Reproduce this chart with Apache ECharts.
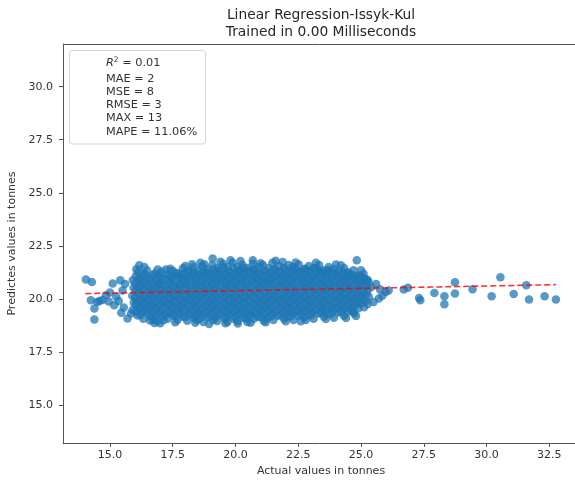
<!DOCTYPE html>
<html>
<head>
<meta charset="utf-8">
<script src="https://cdn.jsdelivr.net/npm/echarts@6/dist/echarts.min.js"></script>
<style>
html,body{margin:0;padding:0;background:#fff;}
#chart{width:575px;height:480px;}
</style>
</head>
<body>
<div id="chart"></div>
<script>
// ---- data ----
const titleLines = ['Linear Regression-Issyk-Kul', 'Trained in 0.00 Milliseconds'];
const xAxisName = 'Actual values in tonnes';
const yAxisName = 'Predictes values in tonnes';
const xTicks = [15.0, 17.5, 20.0, 22.5, 25.0, 27.5, 30.0, 32.5];
const yTicks = [15.0, 17.5, 20.0, 22.5, 25.0, 27.5, 30.0];
const xRange = [13.13, 33.68];
const yRange = [13.21, 32.01];
const metricR2 = '0.01';
const metricLines = ['MAE = 2', 'MSE = 8', 'RMSE = 3', 'MAX = 13', 'MAPE = 11.06%'];
// regression line endpoints [actual, predicted]
const regressionLine = [[14.02, 20.25], [32.76, 20.67]];
// sparse points left of main cloud
const leftPoints = [[14.04,20.91],[14.28,20.80],[14.24,19.94],[14.38,19.55],[14.38,19.03],[14.58,19.90],[14.84,20.17],[15.11,20.72],[15.41,20.88],[15.17,19.70],[15.70,19.08],[15.84,19.31],[16.17,21.58],[16.37,21.50],[17.23,21.38],[19.09,21.90],[18.27,21.63],[18.76,21.63],[16.77,18.87],[17.13,18.99],[20.09,18.84],[20.69,21.82],[21.88,21.74],
[14.50,19.85],[14.70,19.95],[14.95,19.88],[15.00,20.30],[15.25,20.10],[15.35,19.90],[15.50,20.40],[15.55,19.60],[15.60,20.70],[15.45,19.35]];
// sparse points right of main cloud
const rightPoints = [[24.83,21.82],[26.70,20.44],[26.87,20.53],[27.31,20.04],[27.36,19.94],[27.92,20.28],[28.32,20.12],[28.32,19.75],[28.74,20.78],[28.74,20.25],[29.44,20.45],[30.20,20.12],[30.55,21.02],[31.08,20.23],[31.58,20.64],[31.69,19.97],[32.31,20.12],[32.76,19.97],
[25.98,20.33],[25.71,20.02],[25.41,20.56],[25.14,20.96],[24.68,19.39],[26.10,20.40],[25.85,20.15],[25.60,20.70],[25.50,19.85],[25.75,20.45]];
// dense main cloud (outer layer)
const cloudPoints = [
[15.90,19.48],[15.95,19.82],[15.89,20.15],[15.94,20.52],[15.91,20.88],
[16.10,19.22],[16.15,19.56],[16.09,19.88],[16.14,20.24],[16.11,20.57],[16.16,20.93],[16.12,21.26],
[16.33,19.06],[16.29,19.41],[16.34,19.74],[16.30,20.09],[16.32,20.43],[16.28,20.78],[16.33,21.18],
[16.50,19.31],[16.54,19.64],[16.49,19.97],[16.55,20.31],[16.51,20.66],[16.53,21.00],[16.48,21.34],
[16.72,19.02],[16.68,19.37],[16.71,19.70],[16.74,20.04],[16.69,20.40],[16.73,20.74],[16.70,21.12],
[16.89,18.96],[16.93,19.31],[16.90,19.64],[16.94,19.98],[16.88,20.33],[16.92,20.69],[16.95,21.04],[16.90,21.38],
[17.11,19.21],[17.07,19.55],[17.10,19.89],[17.12,20.23],[17.08,20.58],[17.11,20.93],[17.06,21.28],
[17.30,19.06],[17.34,19.40],[17.31,19.73],[17.33,20.07],[17.29,20.42],[17.35,20.77],[17.32,21.13],
[17.52,19.22],[17.48,19.57],[17.51,19.91],[17.49,20.26],[17.53,20.60],[17.47,20.96],[17.50,21.33],
[17.69,19.01],[17.73,19.35],[17.70,19.68],[17.72,20.02],[17.68,20.37],[17.74,20.71],[17.71,21.05],[17.70,21.22],
[17.91,19.16],[17.87,19.50],[17.90,19.84],[17.92,20.19],[17.88,20.53],[17.90,20.88],[17.86,21.20],[17.91,21.44],
[18.08,18.97],[18.12,19.31],[18.09,19.65],[18.11,19.99],[18.13,20.34],[18.07,20.68],[18.10,21.02],[18.12,21.30],
[18.33,19.11],[18.29,19.46],[18.32,19.80],[18.30,20.14],[18.34,20.48],[18.28,20.83],[18.31,21.17],[18.33,21.49],
[18.47,19.01],[18.51,19.35],[18.48,19.69],[18.50,20.04],[18.52,20.38],[18.46,20.72],[18.49,21.06],[18.51,21.34],
[18.72,18.91],[18.68,19.26],[18.71,19.60],[18.69,19.95],[18.73,20.29],[18.67,20.63],[18.70,20.98],[18.72,21.30],[18.68,21.54],
[18.89,19.16],[18.93,19.50],[18.90,19.84],[18.92,20.18],[18.88,20.53],[18.94,20.87],[18.91,21.20],[18.89,21.40],
[19.12,19.01],[19.08,19.35],[19.11,19.69],[19.09,20.03],[19.13,20.38],[19.07,20.72],[19.10,21.06],[19.12,21.38],[19.08,21.60],
[19.27,18.96],[19.31,19.30],[19.28,19.64],[19.30,19.98],[19.32,20.33],[19.26,20.67],[19.29,21.01],[19.31,21.34],[19.27,21.46],
[19.54,19.11],[19.50,19.45],[19.53,19.79],[19.51,20.13],[19.55,20.47],[19.49,20.82],[19.52,21.16],[19.54,21.48],[19.50,21.65],
[19.68,18.91],[19.72,19.25],[19.69,19.60],[19.71,19.94],[19.73,20.28],[19.67,20.62],[19.70,20.97],[19.72,21.30],[19.68,21.50],
[19.93,19.06],[19.89,19.40],[19.92,19.74],[19.90,20.08],[19.94,20.43],[19.88,20.77],[19.91,21.11],[19.93,21.44],[19.89,21.70],
[20.08,18.96],[20.12,19.30],[20.09,19.64],[20.11,19.98],[20.13,20.33],[20.07,20.67],[20.10,21.01],[20.12,21.32],[20.08,21.50],
[20.32,19.11],[20.28,19.45],[20.31,19.79],[20.29,20.13],[20.33,20.47],[20.27,20.82],[20.30,21.16],[20.32,21.45],[20.28,21.60],
[20.47,18.91],[20.51,19.25],[20.48,19.60],[20.50,19.94],[20.52,20.28],[20.46,20.62],[20.49,20.97],[20.51,21.30],[20.47,21.45],
[20.73,19.06],[20.69,19.40],[20.72,19.74],[20.70,20.08],[20.74,20.43],[20.68,20.77],[20.71,21.11],[20.73,21.42],[20.69,21.65],
[20.88,19.16],[20.92,19.50],[20.89,19.84],[20.91,20.18],[20.93,20.53],[20.87,20.87],[20.90,21.20],[20.92,21.50],
[21.13,18.96],[21.09,19.30],[21.12,19.64],[21.10,19.98],[21.14,20.33],[21.08,20.67],[21.11,21.01],[21.13,21.33],[21.09,21.60],
[21.28,19.11],[21.32,19.45],[21.29,19.79],[21.31,20.13],[21.33,20.47],[21.27,20.82],[21.30,21.16],[21.32,21.45],
[21.51,19.01],[21.47,19.35],[21.50,19.69],[21.48,20.03],[21.52,20.38],[21.46,20.72],[21.49,21.06],[21.51,21.40],[21.47,21.70],
[21.68,19.21],[21.72,19.55],[21.69,19.89],[21.71,20.23],[21.73,20.58],[21.67,20.92],[21.70,21.25],[21.72,21.55],
[21.93,19.06],[21.89,19.40],[21.92,19.74],[21.90,20.08],[21.94,20.43],[21.88,20.77],[21.91,21.11],[21.93,21.45],
[22.08,19.16],[22.12,19.50],[22.09,19.84],[22.11,20.18],[22.13,20.53],[22.07,20.87],[22.10,21.21],[22.12,21.60],
[22.31,19.01],[22.27,19.35],[22.30,19.69],[22.28,20.03],[22.32,20.38],[22.26,20.72],[22.29,21.06],[22.31,21.40],[22.27,21.50],
[22.48,19.21],[22.52,19.55],[22.49,19.89],[22.51,20.23],[22.53,20.58],[22.47,20.92],[22.50,21.26],[22.52,21.62],
[22.73,19.11],[22.69,19.45],[22.72,19.79],[22.70,20.13],[22.74,20.47],[22.68,20.82],[22.71,21.14],[22.73,21.40],
[22.88,19.26],[22.92,19.60],[22.89,19.94],[22.91,20.28],[22.93,20.63],[22.87,20.97],[22.90,21.30],[22.92,21.55],
[23.11,19.06],[23.07,19.40],[23.10,19.74],[23.08,20.08],[23.12,20.43],[23.06,20.77],[23.09,21.11],[23.11,21.45],
[23.29,19.31],[23.33,19.65],[23.30,19.99],[23.32,20.33],[23.34,20.68],[23.28,21.02],[23.31,21.35],[23.33,21.60],
[23.52,19.16],[23.48,19.50],[23.51,19.84],[23.49,20.18],[23.53,20.53],[23.47,20.87],[23.50,21.20],[23.52,21.35],
[23.67,19.31],[23.71,19.65],[23.68,19.99],[23.70,20.33],[23.72,20.68],[23.66,21.02],[23.69,21.35],[23.71,21.50],
[23.92,19.11],[23.88,19.45],[23.91,19.79],[23.89,20.13],[23.93,20.48],[23.87,20.82],[23.90,21.15],[23.92,21.40],
[24.09,19.36],[24.13,19.70],[24.10,20.04],[24.12,20.38],[24.14,20.73],[24.08,21.05],[24.11,21.30],
[24.32,19.21],[24.28,19.55],[24.31,19.89],[24.29,20.23],[24.33,20.58],[24.27,20.92],[24.30,21.25],[24.32,21.45],
[24.47,19.41],[24.51,19.75],[24.48,20.09],[24.50,20.43],[24.52,20.78],[24.46,21.10],[24.49,21.26],
[24.72,19.31],[24.68,19.65],[24.71,19.99],[24.69,20.33],[24.73,20.68],[24.67,21.02],[24.70,21.35],
[24.89,19.56],[24.93,19.90],[24.90,20.24],[24.92,20.58],[24.88,20.90],[24.91,21.10],
[25.12,19.61],[25.08,19.95],[25.11,20.29],[25.09,20.63],[25.13,20.95],[25.10,21.18],
[25.27,19.76],[25.31,20.10],[25.28,20.44],[25.30,20.78],[25.26,20.90],
[16.05,21.40],[16.60,18.98],[17.00,18.85],[17.40,21.42],[17.60,18.90],[18.00,21.55],[18.40,18.88],[18.95,18.82],[19.40,21.75],[19.60,18.85],[20.20,21.78],[20.60,18.88],[21.00,21.68],[21.20,18.90],[21.60,21.80],[22.00,18.95],[22.40,21.72],[22.80,19.00],[23.20,21.70],[23.60,19.05],[24.00,21.62],[24.40,19.10],[24.20,21.58],[24.80,19.20],[25.00,21.35],[22.60,18.95],[19.80,21.82],[18.60,21.70]
];
// dense main cloud (inner layer)
const cloudInner = [
[16.02,19.40],[16.04,19.73],[16.00,20.07],[16.03,20.41],[16.01,20.75],[16.03,21.08],
[16.21,19.24],[16.23,19.58],[16.20,19.92],[16.22,20.26],[16.19,20.60],[16.22,20.95],
[16.41,19.46],[16.39,19.80],[16.42,20.14],[16.40,20.48],[16.43,20.83],[16.40,21.15],
[16.60,19.20],[16.62,19.53],[16.59,19.87],[16.61,20.21],[16.60,20.56],[16.62,20.90],
[16.80,19.14],[16.82,19.48],[16.79,19.82],[16.81,20.16],[16.80,20.51],[16.83,20.86],[16.79,21.20],
[17.00,19.38],[17.02,19.72],[16.99,20.06],[17.01,20.40],[17.00,20.75],[17.02,21.10],
[17.20,19.23],[17.22,19.57],[17.19,19.90],[17.21,20.24],[17.20,20.59],[17.22,20.94],
[17.41,19.37],[17.39,19.71],[17.42,20.05],[17.40,20.39],[17.43,20.74],[17.40,21.08],
[17.60,19.20],[17.62,19.53],[17.59,19.87],[17.61,20.21],[17.60,20.56],[17.62,20.90],[17.59,21.20],
[17.80,19.30],[17.82,19.64],[17.79,19.98],[17.81,20.32],[17.80,20.67],[17.82,21.02],
[18.00,19.15],[18.02,19.49],[17.99,19.83],[18.01,20.17],[18.00,20.52],[18.02,20.86],[17.99,21.18],
[18.20,19.28],[18.22,19.62],[18.19,19.96],[18.21,20.30],[18.20,20.65],[18.22,21.00],[18.19,21.30],
[18.40,19.18],[18.42,19.52],[18.39,19.86],[18.41,20.20],[18.40,20.55],[18.42,20.90],[18.39,21.20],
[18.60,19.10],[18.62,19.44],[18.59,19.78],[18.61,20.12],[18.60,20.47],[18.62,20.81],[18.59,21.15],
[18.80,19.33],[18.82,19.67],[18.79,20.01],[18.81,20.35],[18.80,20.70],[18.82,21.04],[18.79,21.30],
[19.00,19.18],[19.02,19.52],[18.99,19.86],[19.01,20.20],[19.00,20.55],[19.02,20.89],[18.99,21.22],
[19.20,19.12],[19.22,19.47],[19.19,19.81],[19.21,20.15],[19.20,20.50],[19.22,20.84],[19.19,21.18],
[19.40,19.28],[19.42,19.62],[19.39,19.96],[19.41,20.30],[19.40,20.65],[19.42,21.00],[19.39,21.32],
[19.61,19.08],[19.63,19.42],[19.60,19.77],[19.62,20.11],[19.61,20.45],[19.63,20.80],[19.60,21.14],
[19.80,19.23],[19.82,19.57],[19.79,19.91],[19.81,20.25],[19.80,20.60],[19.82,20.94],[19.79,21.28],
[20.00,19.13],[20.02,19.47],[19.99,19.81],[20.01,20.15],[20.00,20.50],[20.02,20.84],[19.99,21.20],
[20.20,19.28],[20.22,19.62],[20.19,19.96],[20.21,20.30],[20.20,20.65],[20.22,21.00],[20.19,21.32],
[20.40,19.08],[20.42,19.42],[20.39,19.77],[20.41,20.11],[20.40,20.45],[20.42,20.80],[20.39,21.14],
[20.60,19.23],[20.62,19.57],[20.59,19.91],[20.61,20.25],[20.60,20.60],[20.62,20.94],[20.59,21.28],
[20.80,19.33],[20.82,19.67],[20.79,20.01],[20.81,20.35],[20.80,20.70],[20.82,21.04],[20.79,21.35],
[21.00,19.13],[21.02,19.47],[20.99,19.81],[21.01,20.15],[21.00,20.50],[21.02,20.84],[20.99,21.18],
[21.20,19.28],[21.22,19.62],[21.19,19.96],[21.21,20.30],[21.20,20.65],[21.22,20.99],[21.19,21.30],
[21.40,19.18],[21.42,19.52],[21.39,19.86],[21.41,20.20],[21.40,20.55],[21.42,20.89],[21.39,21.22],
[21.60,19.38],[21.62,19.72],[21.59,20.06],[21.61,20.40],[21.60,20.75],[21.62,21.09],[21.59,21.38],
[21.80,19.23],[21.82,19.57],[21.79,19.91],[21.81,20.25],[21.80,20.60],[21.82,20.94],[21.79,21.28],
[22.00,19.33],[22.02,19.67],[21.99,20.01],[22.01,20.35],[22.00,20.70],[22.02,21.04],[21.99,21.36],
[22.20,19.18],[22.22,19.52],[22.19,19.86],[22.21,20.20],[22.20,20.55],[22.22,20.89],[22.19,21.23],
[22.40,19.38],[22.42,19.72],[22.39,20.06],[22.41,20.40],[22.40,20.75],[22.42,21.09],[22.39,21.40],
[22.60,19.28],[22.62,19.62],[22.59,19.96],[22.61,20.30],[22.60,20.65],[22.62,20.99],[22.59,21.28],
[22.80,19.43],[22.82,19.77],[22.79,20.11],[22.81,20.45],[22.80,20.80],[22.82,21.14],[22.79,21.42],
[23.00,19.23],[23.02,19.57],[22.99,19.91],[23.01,20.25],[23.00,20.60],[23.02,20.94],[22.99,21.28],
[23.20,19.48],[23.22,19.82],[23.19,20.16],[23.21,20.50],[23.20,20.85],[23.22,21.18],[23.19,21.45],
[23.40,19.33],[23.42,19.67],[23.39,20.01],[23.41,20.35],[23.40,20.70],[23.42,21.04],[23.39,21.30],
[23.60,19.48],[23.62,19.82],[23.59,20.16],[23.61,20.50],[23.60,20.85],[23.62,21.18],
[23.80,19.28],[23.82,19.62],[23.79,19.96],[23.81,20.30],[23.80,20.65],[23.82,20.99],[23.79,21.30],
[24.00,19.53],[24.02,19.87],[23.99,20.21],[24.01,20.55],[24.00,20.90],[24.02,21.20],
[24.20,19.38],[24.22,19.72],[24.19,20.06],[24.21,20.40],[24.20,20.75],[24.22,21.09],
[24.40,19.58],[24.42,19.92],[24.39,20.26],[24.41,20.60],[24.40,20.95],[24.42,21.20],
[24.60,19.48],[24.62,19.82],[24.59,20.16],[24.61,20.50],[24.60,20.85],[24.62,21.15],
[24.80,19.73],[24.82,20.07],[24.79,20.41],[24.81,20.75],[24.80,21.05],
[25.00,19.78],[25.02,20.12],[24.99,20.46],[25.01,20.80],[25.00,21.05],
[25.20,19.90],[25.22,20.24],[25.19,20.58],[25.21,20.85]
];

// ---- chart ----
const chart = echarts.init(document.getElementById('chart'), null, {renderer: 'canvas'});
const FONT = 'DejaVu Sans';
const TXT = '#333';
const SPINE = '#555';
const allPoints = leftPoints.concat(cloudPoints, cloudInner, rightPoints);
const GRID = {left: 63, top: 44, width: 516, height: 399};

const graphics = [];
titleLines.forEach((t, i) => {
  graphics.push({
    type: 'text', x: 321, y: 15 + i * 17.3, z: 100,
    style: {text: t, font: '13.8px "DejaVu Sans"', fill: '#262626', textAlign: 'center', textVerticalAlign: 'middle', verticalAlign: 'middle'}
  });
});
// top spine of the axes frame
graphics.push({
  type: 'line', z: 40,
  shape: {x1: GRID.left, y1: GRID.top + 0.5, x2: GRID.left + GRID.width, y2: GRID.top + 0.5},
  style: {stroke: SPINE, lineWidth: 1}
});
graphics.push({
  type: 'rect', z: 50,
  shape: {x: 69.5, y: 50.5, width: 136, height: 93.5, r: 3},
  style: {fill: 'rgba(255,255,255,0.8)', stroke: '#d4d4d4', lineWidth: 1}
});
graphics.push({
  type: 'text', x: 106, y: 63.5, z: 60,
  style: {
    text: '{i|R}{s|2}{n| = ' + metricR2 + '}',
    textVerticalAlign: 'middle', verticalAlign: 'middle',
    rich: {
      i: {fontFamily: FONT, fontStyle: 'italic', fontSize: 11.3, fill: TXT, lineHeight: 14},
      s: {fontFamily: FONT, fontSize: 7.5, fill: TXT, verticalAlign: 'top', lineHeight: 14},
      n: {fontFamily: FONT, fontSize: 11.3, fill: TXT, lineHeight: 14}
    }
  }
});
metricLines.forEach((t, i) => {
  graphics.push({
    type: 'text', x: 106, y: 78.8 + i * 13.2, z: 60,
    style: {text: t, font: '11.3px "DejaVu Sans"', fill: TXT, textVerticalAlign: 'middle', verticalAlign: 'middle'}
  });
});

chart.setOption({
  animation: false,
  backgroundColor: '#fff',
  grid: {left: GRID.left, top: GRID.top, width: GRID.width, height: GRID.height, show: false, containLabel: false, outerBoundsMode: 'none'},
  xAxis: {
    type: 'value', min: xRange[0], max: xRange[1],
    name: xAxisName, nameLocation: 'middle', nameGap: 21,
    nameTextStyle: {fontFamily: FONT, fontSize: 11, color: TXT},
    axisLine: {show: true, lineStyle: {color: SPINE, width: 1}},
    axisTick: {show: true, length: 4, customValues: xTicks, lineStyle: {color: SPINE}},
    axisLabel: {customValues: xTicks, formatter: v => v.toFixed(1), fontFamily: FONT, fontSize: 11, color: TXT, margin: 7},
    splitLine: {show: false}
  },
  yAxis: {
    type: 'value', min: yRange[0], max: yRange[1],
    name: yAxisName, nameLocation: 'middle', nameGap: 42, nameRotate: 90,
    nameTextStyle: {fontFamily: FONT, fontSize: 11, color: TXT},
    axisLine: {show: true, lineStyle: {color: SPINE, width: 1}},
    axisTick: {show: true, length: 4, customValues: yTicks, lineStyle: {color: SPINE}},
    axisLabel: {customValues: yTicks, formatter: v => v.toFixed(1), fontFamily: FONT, fontSize: 11, color: TXT, margin: 10},
    splitLine: {show: false}
  },
  series: [
    {
      type: 'scatter', data: allPoints, symbolSize: 8.5, z: 2,
      itemStyle: {color: '#1f77b4', opacity: 0.75}
    },
    {
      type: 'line', data: regressionLine, symbol: 'none', z: 3,
      lineStyle: {color: 'rgba(255,0,0,0.8)', width: 1.6, type: [6, 3]}
    }
  ],
  graphic: graphics
});
</script>
</body>
</html>
